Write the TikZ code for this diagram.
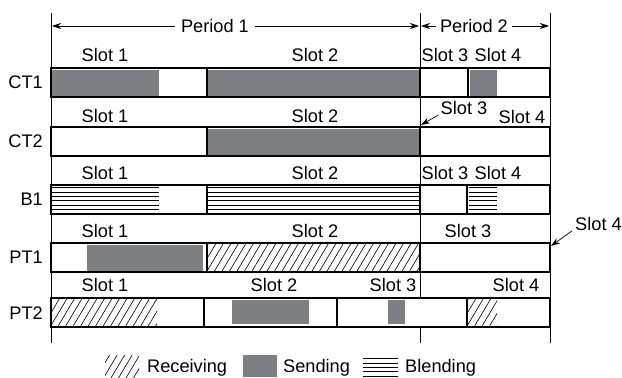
\documentclass[tikz,border=0pt]{standalone}
\usepackage{fontspec}
\setmainfont{Liberation Sans}
\usetikzlibrary{arrows.meta,positioning}
\definecolor{sendgray}{RGB}{126,127,131}

\tikzset{
  slotbar/.style={draw,line width=1.1pt,fill=white},
  sending/.style={fill=sendgray},
  txt/.style={font=\fontsize{18.2}{20}\selectfont,inner sep=0pt},
  rowname/.style={txt,anchor=east}
}
% diagonal hatching for receiving: left, top, right, bottom
\newcommand{\recvbox}[4]{%
  \begin{scope}
    \clip (#1,#2) rectangle (#3,#4);
    \foreach \k in {-24,-16.5,...,220}
      \draw[line width=0.6pt] (#1+\k,#4+1) -- ++(19,-32);
  \end{scope}}
% horizontal lines for blending: left, right, top, count
\newcommand{\blendbox}[4]{%
  \foreach \k in {1,...,#4}
    \draw[line width=0.9pt] (#1,#3+\k*4.4-1.8) -- (#2,#3+\k*4.4-1.8);}

\begin{document}
\begin{tikzpicture}[x=1pt,y=-1pt,>={Stealth[length=9pt,width=6pt]}]
  \useasboundingbox (0,0) rectangle (622,378);
  % period borders
  \draw[line width=0.8pt] (51,13) -- (51,343);
  \draw[line width=0.8pt] (420,13) -- (420,343);
  \draw[line width=0.8pt] (550,13) -- (550,343);
  \draw[<->,line width=0.7pt] (52,26) -- (419,26);
  \node[txt,fill=white,inner xsep=6pt,inner ysep=2pt] (per1) at (215,26) {Period 1};
  \draw[<->,line width=0.7pt] (421,26) -- (549,26);
  \node[txt,fill=white,inner xsep=4pt,inner ysep=2pt] (per2) at (474,26) {Period 2};

  % CT1
  \node[rowname] (ct1) at (43,82) {CT1};
  \draw[slotbar] (51,68) rectangle (207,97);
  \draw[slotbar] (207,68) rectangle (420,97);
  \draw[slotbar] (420,68) rectangle (468,97);
  \draw[slotbar] (468,68) rectangle (550,97);
  \fill[sending] (51.6,69.5) rectangle (159,95.5);
  \fill[sending] (208,69.5) rectangle (418.5,95.5);
  \fill[sending] (469.5,69.5) rectangle (497,95.5);
  \node[txt] (ct1s1) at (105,55) {Slot 1};
  \node[txt] (ct1s2) at (315,55) {Slot 2};
  \node[txt] (ct1s3) at (445,55) {Slot 3};
  \node[txt] (ct1s4) at (498,55) {Slot 4};

  % CT2
  \node[rowname] (ct2) at (43,141) {CT2};
  \draw[slotbar] (51,127) rectangle (207,156);
  \draw[slotbar] (207,127) rectangle (420,156);
  \draw[slotbar] (420,127) rectangle (550,156);
  \fill[sending] (208,128.5) rectangle (418.5,154.5);
  \node[txt] (ct2s1) at (105,116) {Slot 1};
  \node[txt] (ct2s2) at (315,116) {Slot 2};
  \node[txt] (ct2s3) at (464,108) {Slot 3};
  \node[txt] (ct2s4) at (522,117) {Slot 4};
  \coordinate (ct2p3) at (421,125);
  \draw[->,line width=0.7pt] (ct2s3.south west) ++(-2,0) -- (ct2p3);

  % B1
  \node[rowname] (b1) at (43,199) {B1};
  \draw[slotbar] (51,185) rectangle (207,214);
  \draw[slotbar] (207,185) rectangle (420,214);
  \draw[slotbar] (420,185) rectangle (467,214);
  \draw[slotbar] (467,185) rectangle (550,214);
  \blendbox{51.6}{159}{185}{6}
  \blendbox{208}{419}{185}{6}
  \blendbox{468.5}{497}{185}{6}
  \node[txt] (b1s1) at (105,173) {Slot 1};
  \node[txt] (b1s2) at (315,173) {Slot 2};
  \node[txt] (b1s3) at (445,173) {Slot 3};
  \node[txt] (b1s4) at (498,173) {Slot 4};

  % PT1
  \node[rowname] (pt1) at (43,257) {PT1};
  \draw[slotbar] (51,243) rectangle (207,272);
  \draw[slotbar] (207,243) rectangle (420,272);
  \draw[slotbar] (420,243) rectangle (550,272);
  \fill[sending] (87,244.5) rectangle (203,270.5);
  \recvbox{208}{244}{419}{271}
  \node[txt] (pt1s1) at (105,231) {Slot 1};
  \node[txt] (pt1s2) at (315,231) {Slot 2};
  \node[txt] (pt1s3) at (468,231) {Slot 3};
  \node[txt,anchor=west] (pt1s4) at (575,224) {Slot 4};
  \coordinate (pt1p4) at (551,246);
  \draw[->,line width=0.7pt] (pt1s4.south west) ++(-3,0) -- (pt1p4);

  % PT2
  \node[rowname] (pt2) at (43,313) {PT2};
  \draw[slotbar] (51,298) rectangle (204,327);
  \draw[slotbar] (204,298) rectangle (337,327);
  \draw[slotbar] (337,298) rectangle (467,327);
  \draw[slotbar] (467,298) rectangle (550,327);
  \recvbox{51.6}{299}{157}{326}
  \fill[sending] (232,300) rectangle (309,324);
  \fill[sending] (388,300) rectangle (405,324);
  \recvbox{468}{299}{497}{326}
  \node[txt] (pt2s1) at (105,285) {Slot 1};
  \node[txt] (pt2s2) at (274,285) {Slot 2};
  \node[txt] (pt2s3) at (393,285) {Slot 3};
  \node[txt] (pt2s4) at (516,285) {Slot 4};

  % legend
  \recvbox{105}{355}{139}{377}
  \node[txt,anchor=west] (recv) at (147,368) {Receiving};
  \fill[sending] (243,355) rectangle (277,377);
  \node[txt,anchor=west] (send) at (283,368) {Sending};
  \blendbox{363}{398}{356}{5}
  \node[txt,anchor=west] (blend) at (405,368) {Blending};
\end{tikzpicture}
\end{document}
